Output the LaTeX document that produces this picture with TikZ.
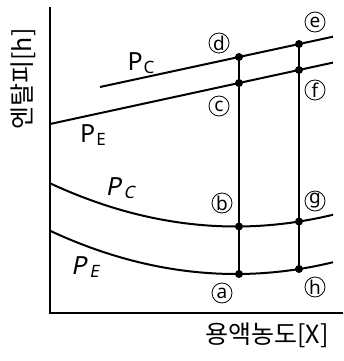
\documentclass[tikz,border=0pt]{standalone}
\usepackage{fontspec}
\setmainfont{Noto Sans}
\newfontfamily\krfont{Noto Sans CJK KR}
\newfontfamily\slfont[FakeSlant=0.2]{Noto Sans}
\newcommand{\Plab}[1]{P\kern1pt\raisebox{-3pt}{\fontsize{17}{17}\selectfont #1}}
\newcommand{\PlabSl}[1]{P\kern3pt\raisebox{-3pt}{\fontsize{17}{17}\selectfont #1}}
\begin{document}
\begin{tikzpicture}[x=1pt,y=-1pt,
  axisline/.style={line width=2.6pt, line join=miter},
  curveline/.style={line width=2pt},
  dotnode/.style={circle, fill=black, inner sep=0pt, minimum size=8pt},
  letternode/.style={circle, draw, line width=0.8pt, inner sep=0pt, minimum size=20pt, font=\fontsize{19}{19}\selectfont},
  plabel/.style={font=\fontsize{25}{25}\selectfont, inner sep=0pt},
  axlabel/.style={font=\krfont\fontsize{25}{25}\selectfont, inner sep=0pt}]
\useasboundingbox (0,0) rectangle (343,361);
% axes
\coordinate (ytop) at (50,7);
\coordinate (origin) at (50,313);
\coordinate (xend) at (343,313);
\draw[axisline] (ytop) -- (origin) -- (xend);
% upper straight lines
\coordinate (pcs) at (100,87);
\coordinate (pce) at (333,36.7);
\coordinate (pes) at (50,124);
\coordinate (pee) at (333,62.6);
\draw[curveline] (pcs) -- (pce);
\draw[curveline] (pes) -- (pee);
% lower curves
\draw[curveline] plot[domain=50:333, samples=60, smooth] (\x, {226.5-(0.035355*(\x-236))^2});
\draw[curveline] plot[domain=50:333, samples=60, smooth] (\x, {274-(0.035355*(\x-236))^2});
% state points
\coordinate (d) at (239,57.0);
\coordinate (e) at (299,44.0);
\coordinate (c) at (239,83.0);
\coordinate (f) at (299,70.0);
\coordinate (b) at (239,226.5);
\coordinate (g) at (299,221.5);
\coordinate (a) at (239,274);
\coordinate (h) at (299,269);
\draw[curveline] (d) -- (a);
\draw[curveline] (e) -- (h);
\foreach \p in {a,b,c,d,e,f,g,h} \node[dotnode] at (\p) {};
% circled letters
\node[letternode] (ld) at (219,43) {d};
\node[letternode] (le) at (315,22) {e};
\node[letternode] (lc) at (219,106) {c};
\node[letternode] (lf) at (315,90) {f};
\node[letternode] (lb) at (222,203) {b};
\node[letternode] (lg) at (315,201) {g};
\node[letternode] (la) at (222,293) {a};
\node[letternode] (lh) at (315,287) {h};
% pressure labels
\node[plabel] (pc1) at (141,63) {\Plab{C}};
\node[plabel] (pe1) at (93,135) {\Plab{E}};
\node[plabel] (pc2) at (120,188) {\slfont\PlabSl{C}};
\node[plabel] (pe2) at (85,267) {\slfont\PlabSl{E}};
% axis labels
\node[axlabel, rotate=90] (ylab) at (23,79) {엔탈피[h]};
\node[axlabel] (xlab) at (267,335) {용액농도[X]};
\end{tikzpicture}
\end{document}
